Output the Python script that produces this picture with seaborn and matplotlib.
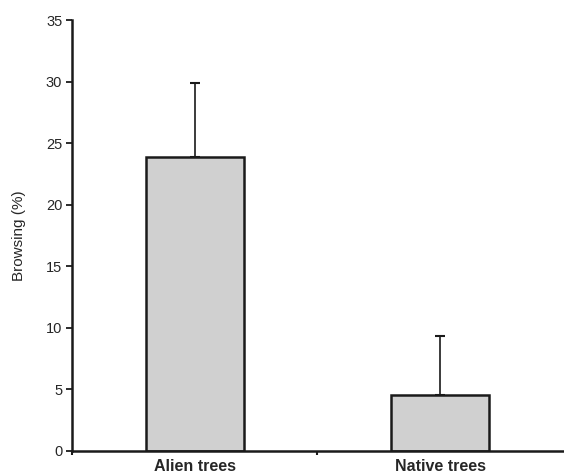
import numpy as np
import pandas as pd
import matplotlib
matplotlib.use("Agg")
import matplotlib.pyplot as plt
import seaborn as sns

categories = ["Alien trees", "Native trees"]
browsing = [23.9, 4.55]
browsing_se = [6.0, 4.8]
y_ticks = [0, 5, 10, 15, 20, 25, 30, 35]

sns.set_theme(style="white")
plt.rcParams["font.family"] = ["Liberation Sans", "DejaVu Sans"]

df = pd.DataFrame({"group": categories, "browsing": browsing})

fig = plt.figure(figsize=(5.64, 4.76), dpi=100)
ax = fig.add_axes([72 / 564, 25 / 476, 1 - 72 / 564 - 0.002, (451 - 20) / 476])

sns.barplot(data=df, x="group", y="browsing", color="#d0d0d0", width=0.4,
            edgecolor="#1a1a1a", linewidth=1.8, saturation=1, ax=ax)
ax.errorbar(np.arange(len(categories)), browsing,
            yerr=[np.zeros(len(browsing)), browsing_se],
            fmt="none", ecolor="#1a1a1a", elinewidth=1.2, capsize=3.5, capthick=1.5)

ax.set_xlim(-0.5, 1.5)
ax.set_ylim(0, 35)
ax.set_yticks(y_ticks)
ax.set_yticklabels([str(t) for t in y_ticks], fontsize=10.5)
ax.set_xticks([0, 1])
ax.set_xticklabels(categories, fontsize=11.5, fontweight="bold")
ax.set_xticks([-0.5, 0.5], minor=True)
ax.tick_params(axis="x", which="major", bottom=False, length=0, pad=6)
ax.tick_params(axis="x", which="minor", bottom=True, length=3, width=1.5,
               direction="out", color="#1a1a1a")
ax.tick_params(axis="y", left=True, length=4, width=1.3, direction="out",
               color="#1a1a1a", pad=3)
ax.set_xlabel("")
ax.set_ylabel("Browsing (%)", fontsize=11, labelpad=14)

for s in ["top", "right"]:
    ax.spines[s].set_visible(False)
for s in ["left", "bottom"]:
    ax.spines[s].set_linewidth(1.8)
    ax.spines[s].set_color("#1a1a1a")

fig.savefig("out.png", dpi=100, facecolor="white")
